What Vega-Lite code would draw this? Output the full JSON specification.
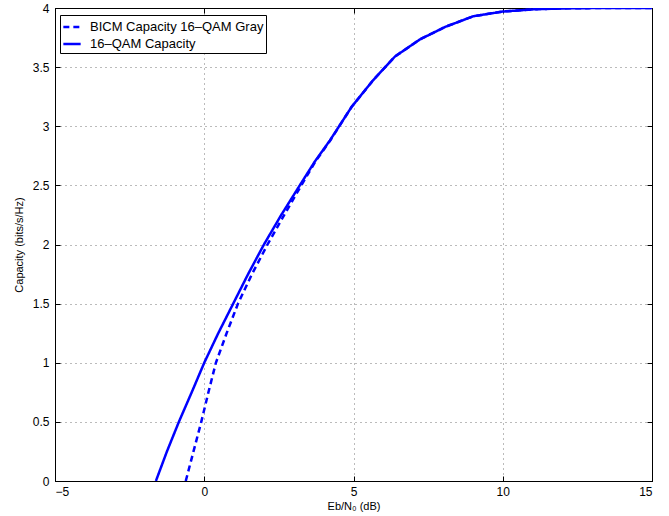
{
  "$schema": "https://vega.github.io/schema/vega-lite/v6.json",
  "autosize": "none",
  "width": 597,
  "height": 473,
  "padding": {"left": 55, "top": 8, "right": 17, "bottom": 35},
  "background": "white",
  "config": {
    "font": "Liberation Sans",
    "view": {"stroke": "black", "strokeWidth": 1},
    "axis": {
      "labelFont": "Liberation Sans",
      "titleFont": "Liberation Sans",
      "labelFontSize": 12,
      "titleFontSize": 11,
      "titleFontWeight": "normal",
      "labelColor": "black",
      "titleColor": "black",
      "domainColor": "black",
      "tickColor": "black",
      "tickSize": -5,
      "gridColor": "#777777",
      "gridDash": [1, 4],
      "gridOpacity": 1
    }
  },
  "data": {
    "values": [
      {"x": -1.62, "y": 0.0, "series": "16–QAM Capacity"},
      {"x": -1.25, "y": 0.25, "series": "16–QAM Capacity"},
      {"x": -0.85, "y": 0.5, "series": "16–QAM Capacity"},
      {"x": -0.42, "y": 0.75, "series": "16–QAM Capacity"},
      {"x": 0.0, "y": 1.0, "series": "16–QAM Capacity"},
      {"x": 0.47, "y": 1.25, "series": "16–QAM Capacity"},
      {"x": 0.97, "y": 1.5, "series": "16–QAM Capacity"},
      {"x": 1.47, "y": 1.75, "series": "16–QAM Capacity"},
      {"x": 2.0, "y": 2.0, "series": "16–QAM Capacity"},
      {"x": 2.58, "y": 2.25, "series": "16–QAM Capacity"},
      {"x": 3.2, "y": 2.5, "series": "16–QAM Capacity"},
      {"x": 3.7, "y": 2.7, "series": "16–QAM Capacity"},
      {"x": 4.21, "y": 2.88, "series": "16–QAM Capacity"},
      {"x": 4.94, "y": 3.165, "series": "16–QAM Capacity"},
      {"x": 5.66, "y": 3.39, "series": "16–QAM Capacity"},
      {"x": 6.39, "y": 3.59, "series": "16–QAM Capacity"},
      {"x": 7.23, "y": 3.735, "series": "16–QAM Capacity"},
      {"x": 8.07, "y": 3.84, "series": "16–QAM Capacity"},
      {"x": 9.01, "y": 3.93, "series": "16–QAM Capacity"},
      {"x": 10.0, "y": 3.97, "series": "16–QAM Capacity"},
      {"x": 11.1, "y": 3.99, "series": "16–QAM Capacity"},
      {"x": 12.3, "y": 3.998, "series": "16–QAM Capacity"},
      {"x": 13.6, "y": 4.0, "series": "16–QAM Capacity"},
      {"x": 15.0, "y": 4.0, "series": "16–QAM Capacity"},
      {"x": -0.62, "y": 0.0, "series": "BICM Capacity 16–QAM Gray"},
      {"x": -0.36, "y": 0.25, "series": "BICM Capacity 16–QAM Gray"},
      {"x": -0.1, "y": 0.5, "series": "BICM Capacity 16–QAM Gray"},
      {"x": 0.14, "y": 0.75, "series": "BICM Capacity 16–QAM Gray"},
      {"x": 0.39, "y": 1.0, "series": "BICM Capacity 16–QAM Gray"},
      {"x": 0.75, "y": 1.25, "series": "BICM Capacity 16–QAM Gray"},
      {"x": 1.13, "y": 1.5, "series": "BICM Capacity 16–QAM Gray"},
      {"x": 1.6, "y": 1.75, "series": "BICM Capacity 16–QAM Gray"},
      {"x": 2.12, "y": 2.0, "series": "BICM Capacity 16–QAM Gray"},
      {"x": 2.68, "y": 2.25, "series": "BICM Capacity 16–QAM Gray"},
      {"x": 3.25, "y": 2.5, "series": "BICM Capacity 16–QAM Gray"},
      {"x": 3.72, "y": 2.7, "series": "BICM Capacity 16–QAM Gray"},
      {"x": 4.22, "y": 2.88, "series": "BICM Capacity 16–QAM Gray"},
      {"x": 4.94, "y": 3.165, "series": "BICM Capacity 16–QAM Gray"},
      {"x": 5.66, "y": 3.39, "series": "BICM Capacity 16–QAM Gray"},
      {"x": 6.39, "y": 3.59, "series": "BICM Capacity 16–QAM Gray"},
      {"x": 7.23, "y": 3.735, "series": "BICM Capacity 16–QAM Gray"},
      {"x": 8.07, "y": 3.84, "series": "BICM Capacity 16–QAM Gray"},
      {"x": 9.01, "y": 3.93, "series": "BICM Capacity 16–QAM Gray"},
      {"x": 10.0, "y": 3.97, "series": "BICM Capacity 16–QAM Gray"},
      {"x": 11.1, "y": 3.99, "series": "BICM Capacity 16–QAM Gray"},
      {"x": 12.3, "y": 3.998, "series": "BICM Capacity 16–QAM Gray"},
      {"x": 13.6, "y": 4.0, "series": "BICM Capacity 16–QAM Gray"},
      {"x": 15.0, "y": 4.0, "series": "BICM Capacity 16–QAM Gray"}
    ]
  },
  "layer": [
    {
      "mark": {"type": "line", "color": "#0000ff", "strokeWidth": 2.5, "clip": true},
      "encoding": {
        "x": {
          "field": "x", "type": "quantitative",
          "scale": {"domain": [-5, 15], "nice": false, "zero": false},
          "axis": {"values": [-5, 0, 5, 10, 15], "format": "~g", "title": "Eb/N₀ (dB)", "labelPadding": 10, "titlePadding": 3, "grid": true}
        },
        "y": {
          "field": "y", "type": "quantitative",
          "scale": {"domain": [0, 4], "nice": false},
          "axis": {"values": [0, 0.5, 1, 1.5, 2, 2.5, 3, 3.5, 4], "format": "~g", "title": "Capacity (bits/s/Hz)", "labelPadding": 11, "titlePadding": 8, "grid": true}
        },
        "strokeDash": {
          "field": "series", "type": "nominal",
          "scale": {"domain": ["BICM Capacity 16–QAM Gray", "16–QAM Capacity"], "range": [[6, 4], [1, 0]]},
          "legend": {
            "title": null,
            "orient": "none",
            "legendX": 5,
            "legendY": 7,
            "strokeColor": "black",
            "fillColor": "white",
            "padding": 2,
            "symbolType": "stroke",
            "symbolSize": 300,
            "symbolStrokeWidth": 2.5,
            "symbolStrokeColor": "#0000ff",
            "labelFontSize": 13,
            "labelFont": "Liberation Sans",
            "labelColor": "black",
            "labelLimit": 400,
            "rowPadding": 0,
            "labelOffset": 8
          }
        },
        "detail": {"field": "series"}
      }
    },
    {
      "mark": {"type": "line", "opacity": 0},
      "encoding": {
        "x": {
          "field": "x", "type": "quantitative",
          "axis": {"orient": "top", "values": [-5, 0, 5, 10, 15], "labels": false, "title": null, "grid": false}
        },
        "y": {
          "field": "y", "type": "quantitative",
          "axis": {"orient": "right", "values": [0, 0.5, 1, 1.5, 2, 2.5, 3, 3.5, 4], "labels": false, "title": null, "grid": false}
        },
        "detail": {"field": "series"}
      }
    }
  ],
  "resolve": {"axis": {"x": "independent", "y": "independent"}}
}
